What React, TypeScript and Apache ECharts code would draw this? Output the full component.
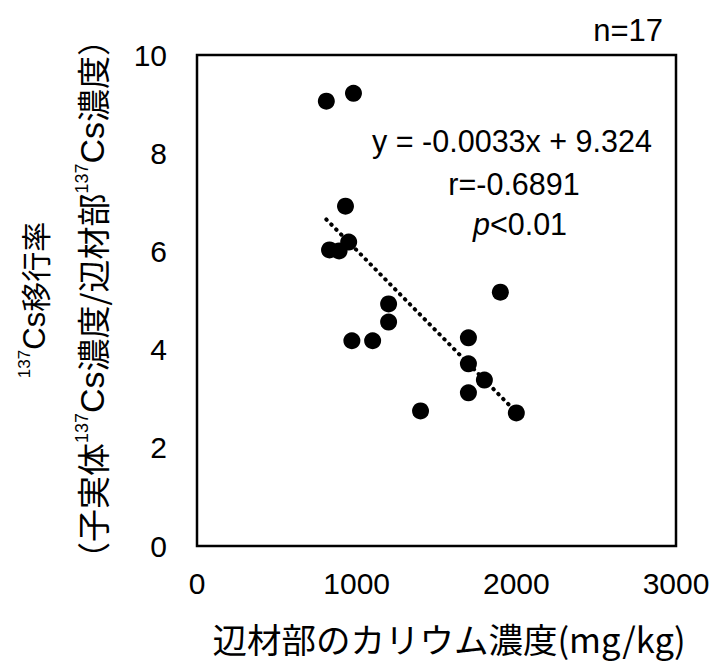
import React, { useEffect, useRef } from "react";
import * as echarts from "echarts";

// 辺材部のカリウム濃度 (mg/kg)
const kConc = [810, 980, 930, 830, 890, 950, 1200, 1200, 970, 1100, 1900, 1700, 1700, 1800, 1700, 1400, 2000];
// 137Cs移行率
const transfer = [9.06, 9.22, 6.92, 6.03, 6.01, 6.19, 4.93, 4.56, 4.18, 4.18, 5.17, 4.24, 3.71, 3.38, 3.12, 2.75, 2.71];
const slope = -0.0033;
const intercept = 9.324;
const xTicks = [0, 1000, 2000, 3000];
const yTicks = [0, 2, 4, 6, 8, 10];
const eqText = "y = -0.0033x + 9.324";
const rText = "r=-0.6891";
const nText = "n=17";

export default function App() {
  const ref = useRef<HTMLDivElement>(null);
  useEffect(() => {
    const chart = echarts.init(ref.current!, null, { renderer: "svg" });
    const xMin = Math.min(...kConc);
    const xMax = Math.max(...kConc);
    const trend = [
      [xMin, slope * xMin + intercept],
      [xMax, slope * xMax + intercept],
    ];
    const latin = "'Liberation Sans', Arial, sans-serif";
    const cjk = "'Noto Sans CJK JP', sans-serif";
    const rich1 = {
      sup: { fontSize: 17, fontFamily: latin, lineHeight: 17, verticalAlign: "top", fill: "#000" },
      cs: { fontSize: 31, fontFamily: latin, lineHeight: 36, fill: "#000" },
      jp: { fontSize: 30, fontFamily: cjk, lineHeight: 36, fill: "#000" },
    };
    const rich2 = {
      sup: { fontSize: 18, fontFamily: latin, lineHeight: 18, verticalAlign: "top", fill: "#000" },
      cs: { fontSize: 34, fontFamily: latin, lineHeight: 38, fill: "#000" },
      jp: { fontSize: 33, fontFamily: cjk, lineHeight: 38, fill: "#000" },
    };
    chart.setOption({
      animation: false,
      grid: {
        left: 197,
        right: 41,
        top: 55,
        bottom: 117,
        show: true,
        borderColor: "#000",
        borderWidth: 2.5,
        backgroundColor: "transparent",
      },
      xAxis: {
        type: "value",
        min: xTicks[0],
        max: xTicks[xTicks.length - 1],
        interval: xTicks[1] - xTicks[0],
        axisLine: { show: false },
        axisTick: { show: false },
        splitLine: { show: false },
        axisLabel: {
          color: "#000",
          fontSize: 30,
          fontFamily: latin,
          margin: 22,
          formatter: (v: number) => String(v),
        },
      },
      yAxis: {
        type: "value",
        min: yTicks[0],
        max: yTicks[yTicks.length - 1],
        interval: yTicks[1] - yTicks[0],
        axisLine: { show: false },
        axisTick: { show: false },
        splitLine: { show: false },
        axisLabel: { color: "#000", fontSize: 30, fontFamily: latin, margin: 30 },
      },
      series: [
        {
          type: "line",
          data: trend,
          symbol: "none",
          lineStyle: { color: "#000", width: 4, type: [0.5, 6.5], cap: "round", opacity: 1 },
          z: 1,
        },
        {
          type: "scatter",
          data: kConc.map((x, i) => [x, transfer[i]]),
          symbol: "circle",
          symbolSize: 17,
          itemStyle: { color: "#000", opacity: 1 },
          z: 2,
        },
      ],
      graphic: [
        {
          type: "text",
          x: 663,
          y: 30,
          style: { text: nText, fontSize: 31, fontFamily: latin, fill: "#000", align: "right", verticalAlign: "middle" },
        },
        {
          type: "text",
          x: 512,
          y: 141,
          style: { text: eqText, fontSize: 30.5, fontFamily: latin, fill: "#000", align: "center", verticalAlign: "middle" },
        },
        {
          type: "text",
          x: 514,
          y: 184,
          style: { text: rText, fontSize: 30.5, fontFamily: latin, fill: "#000", align: "center", verticalAlign: "middle" },
        },
        {
          type: "text",
          x: 520,
          y: 224,
          style: {
            text: "{it|p}{n|<0.01}",
            align: "center",
            verticalAlign: "middle",
            rich: {
              it: { fontSize: 30.5, fontFamily: latin, fontStyle: "italic", fill: "#000" },
              n: { fontSize: 30.5, fontFamily: latin, fill: "#000" },
            },
          },
        },
        {
          type: "text",
          x: 449,
          y: 638,
          style: {
            text: "辺材部のカリウム濃度(mg/kg)",
            fontSize: 34.5,
            lineHeight: 38,
            fontFamily: cjk,
            fill: "#000",
            align: "center",
            verticalAlign: "middle",
          },
        },
        {
          type: "text",
          x: 34,
          y: 300,
          rotation: Math.PI / 2,
          style: {
            text: "{sup|137}{cs|Cs}{jp|移行率}",
            rich: rich1,
            align: "center",
            verticalAlign: "middle",
          },
        },
        {
          type: "text",
          x: 92,
          y: 299,
          rotation: Math.PI / 2,
          style: {
            text: "{jp|（子実体}{sup|137}{cs|Cs}{jp|濃度/辺材部}{sup|137}{cs|Cs}{jp|濃度）}",
            rich: rich2,
            align: "center",
            verticalAlign: "middle",
          },
        },
      ],
    });
    return () => chart.dispose();
  }, []);
  return (
    <div
      ref={ref}
      style={{ position: "absolute", left: 0, top: 0, width: 717, height: 663, background: "#fff" }}
    />
  );
}
